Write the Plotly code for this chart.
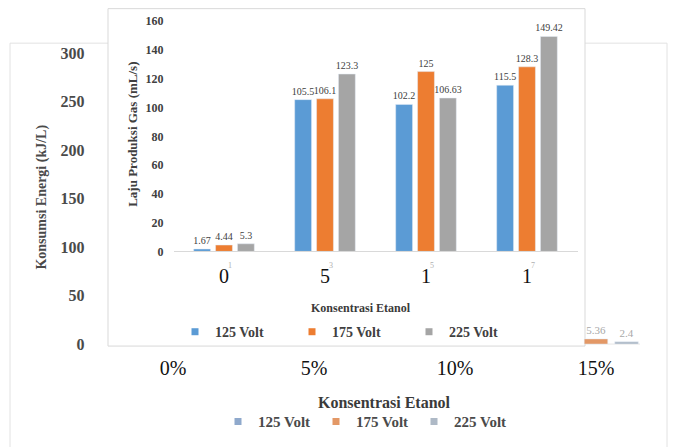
import plotly.graph_objects as go

# ---------------- data ----------------
CATEGORIES_BACK = ["0%", "5%", "10%", "15%"]
CATEGORIES_FRONT = ["0", "5", "10", "15"]
FRONT_TICK_TEXT = ["0", "5", "1", "1"]
FRONT_TICK_SUP = ["1", "3", "5", "7"]
SERIES = ["125 Volt", "175 Volt", "225 Volt"]

# front chart: Laju Produksi Gas (mL/s)
GAS_125 = [1.67, 105.5, 102.2, 115.5]
GAS_175 = [4.44, 106.1, 125, 128.3]
GAS_225 = [5.3, 123.3, 106.63, 149.42]

# back chart: Konsumsi Energi (kJ/L) - only the 15% group is visible
ENERGY_125 = [None, None, None, None]
ENERGY_175 = [None, None, None, 5.36]
ENERGY_225 = [None, None, None, 2.4]

BACK_Y_TICKS = [0, 50, 100, 150, 200, 250, 300]
FRONT_Y_TICKS = [0, 20, 40, 60, 80, 100, 120, 140, 160]

COLORS = ["#5B9BD5", "#ED7D31", "#A5A5A5"]
BACK_COLORS = ["#8FA9CC", "#E39866", "#AEB9C6"]

W, H = 673, 447
SERIF = "Liberation Serif, Times New Roman, serif"

# the photographed page maps figure y to picture y as  y' = (y + 8) * 0.9654
VSCALE = 0.9654
VOFF = 8.0


def px(x):
    return x / W


def py(y_target):
    y_fig = y_target / VSCALE - VOFF
    return 1 - y_fig / H


def labels(vals):
    return ["" if v is None else f"{v}" for v in vals]


fig = go.Figure()

# back chart bars
for name, vals, col in zip(SERIES, [ENERGY_125, ENERGY_175, ENERGY_225], BACK_COLORS):
    fig.add_trace(go.Bar(
        x=CATEGORIES_BACK, y=vals, name=name, marker_color=col,
        xaxis="x", yaxis="y", showlegend=False,
        text=labels(vals), textposition="outside", cliponaxis=False,
        constraintext="none",
        textfont=dict(family=SERIF, size=11, color="#A8A8A8"),
    ))

# front chart bars
for name, vals, col in zip(SERIES, [GAS_125, GAS_175, GAS_225], COLORS):
    fig.add_trace(go.Bar(
        x=CATEGORIES_FRONT, y=vals, name=name, marker_color=col,
        xaxis="x2", yaxis="y2", showlegend=False,
        text=labels(vals), textposition="outside", cliponaxis=False,
        constraintext="none",
        textfont=dict(family=SERIF, size=10, color="#404040"),
    ))

# legend entries (small square markers)
for name, col in zip(SERIES, BACK_COLORS):
    fig.add_trace(go.Scatter(
        x=[None], y=[None], mode="markers", name=name, legend="legend",
        marker=dict(symbol="square", size=7, color=col),
        xaxis="x", yaxis="y",
    ))
for name, col in zip(SERIES, COLORS):
    fig.add_trace(go.Scatter(
        x=[None], y=[None], mode="markers", name=name, legend="legend2",
        marker=dict(symbol="square", size=7, color=col),
        xaxis="x2", yaxis="y2",
    ))

annotations = [
    dict(text="Konsumsi Energi (kJ/L)", xref="paper", yref="paper",
         x=px(42), y=py(198), textangle=-90, showarrow=False,
         xanchor="center", yanchor="middle",
         font=dict(family=SERIF, size=14, color="#4A4A4A", weight="bold")),
    dict(text="Konsentrasi Etanol", xref="paper", yref="paper",
         x=px(384), y=py(404), showarrow=False,
         xanchor="center", yanchor="middle",
         font=dict(family=SERIF, size=16, color="#3A3A3A", weight="bold")),
    dict(text="Laju Produksi Gas (mL/s)", xref="paper", yref="paper",
         x=px(133), y=py(135), textangle=-90, showarrow=False,
         xanchor="center", yanchor="middle",
         font=dict(family=SERIF, size=13, color="#404040", weight="bold")),
    dict(text="Konsentrasi Etanol", xref="paper", yref="paper",
         x=px(361), y=py(309), showarrow=False,
         xanchor="center", yanchor="middle",
         font=dict(family=SERIF, size=12, color="#3A3A3A", weight="bold")),
]
# small grey superscript marks beside the front x tick labels
for i, sup in enumerate(FRONT_TICK_SUP):
    annotations.append(dict(
        text=sup, xref="x2", yref="paper", x=i, y=py(266), xshift=6,
        xanchor="center", yanchor="middle",
        showarrow=False, font=dict(family=SERIF, size=8, color="#B0B0B0"),
    ))

fig.update_layout(
    width=W, height=H, autosize=False,
    margin=dict(l=0, r=0, t=0, b=0),
    paper_bgcolor="white", plot_bgcolor="rgba(0,0,0,0)",
    barmode="group", bargap=0.35, bargroupgap=0.23,
    xaxis=dict(
        domain=[px(102.5), px(666.5)], anchor="y", range=[-0.5, 3.5],
        type="category", categoryorder="array", categoryarray=CATEGORIES_BACK,
        showline=False, showgrid=False, zeroline=False, ticks="",
        ticklabelstandoff=10,
        tickfont=dict(family=SERIF, size=20, color="#111111"),
    ),
    yaxis=dict(
        domain=[py(345), py(53)], anchor="x", range=[0, 300],
        tickvals=BACK_Y_TICKS, showline=False, showgrid=False, zeroline=False,
        ticks="", ticklabelstandoff=17,
        tickfont=dict(family=SERIF, size=16, color="#4A4A4A", weight="bold"),
    ),
    xaxis2=dict(
        domain=[px(173.5), px(577.5)], anchor="y2", range=[-0.5, 3.5],
        type="category", categoryorder="array", categoryarray=CATEGORIES_FRONT,
        tickvals=CATEGORIES_FRONT, ticktext=FRONT_TICK_TEXT,
        showline=True, linecolor="#D9D9D9", linewidth=1,
        showgrid=False, zeroline=False, ticks="",
        ticklabelstandoff=7,
        tickfont=dict(family=SERIF, size=20, color="#111111"),
    ),
    yaxis2=dict(
        domain=[py(252), py(21)], anchor="x2", range=[0, 160],
        tickvals=FRONT_Y_TICKS, showline=False, showgrid=False, zeroline=False,
        ticks="", ticklabelstandoff=9,
        tickfont=dict(family=SERIF, size=12, color="#404040", weight="bold"),
    ),
    legend=dict(
        orientation="h", x=px(218), xanchor="left", y=py(423), yanchor="middle",
        entrywidth=53, entrywidthmode="pixels",
        font=dict(family=SERIF, size=15, color="#4A4A4A", weight="bold"),
        bgcolor="rgba(0,0,0,0)", itemclick=False, itemdoubleclick=False,
    ),
    legend2=dict(
        orientation="h", x=px(175), xanchor="left", y=py(333), yanchor="middle",
        entrywidth=72, entrywidthmode="pixels",
        font=dict(family=SERIF, size=14, color="#404040", weight="bold"),
        bgcolor="rgba(0,0,0,0)", itemclick=False, itemdoubleclick=False,
    ),
    shapes=[
        # back chart border
        dict(type="rect", xref="paper", yref="paper", layer="below",
             x0=px(10), x1=px(667), y0=-0.05, y1=py(43),
             line=dict(color="#E2E2E2", width=1), fillcolor="white"),
        # back chart baseline (visible portion)
        dict(type="line", xref="paper", yref="paper", layer="below",
             x0=px(585), x1=px(640), y0=py(345), y1=py(345),
             line=dict(color="#E6E6E6", width=1)),
        # front chart box
        dict(type="rect", xref="paper", yref="paper", layer="below",
             x0=px(108), x1=px(585), y0=py(347), y1=0.9985,
             line=dict(color="#D9D9D9", width=1), fillcolor="white"),
    ],
    annotations=annotations,
)

fig.write_html(
    "out.html",
    config={"displayModeBar": False},
    post_script=(
        "document.documentElement.style.cssText='margin:0;padding:0;overflow:hidden';"
        "document.body.style.cssText='margin:0;padding:0;overflow:hidden';"
    ),
)
